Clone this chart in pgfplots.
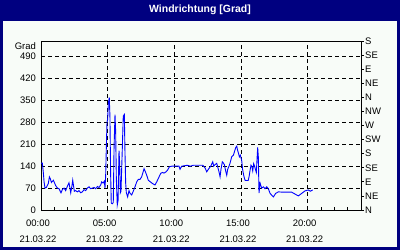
\documentclass[border=0pt]{standalone}
\usepackage{pgfplots}
\pgfplotsset{compat=1.18}
\usepackage{fontspec}
\setmainfont{Liberation Sans}
\definecolor{navy}{RGB}{0,0,128}
\definecolor{bgc}{RGB}{248,252,248}
\definecolor{lineblue}{RGB}{0,0,255}
\pgfplotstableread{
h v
0.00 150
0.10 150
0.18 117
0.23 90
0.30 70
0.40 72
0.55 85
0.63 106
0.70 100
0.78 88
0.93 95
1.00 88
1.10 78
1.23 70
1.35 68
1.50 55
1.60 65
1.73 70
1.85 62
2.00 78
2.10 87
2.17 70
2.23 55
2.33 80
2.38 95
2.43 80
2.50 60
2.60 62
2.73 58
2.85 62
2.98 55
3.10 58
3.23 65
3.35 62
3.48 70
3.60 74
3.73 68
3.85 70
3.98 72
4.10 68
4.23 75
4.35 72
4.48 80
4.55 90
4.65 86
4.75 92
4.80 70
4.85 110
4.90 200
4.95 280
5.00 290
5.05 340
5.12 360
5.17 300
5.22 120
5.27 22
5.35 20
5.42 24
5.48 200
5.55 305
5.60 250
5.65 100
5.72 16
5.78 30
5.85 190
5.90 150
5.95 55
6.00 60
6.10 200
6.17 300
6.25 305
6.30 180
6.35 86
6.40 55
6.50 42
6.60 62
6.68 53
6.80 48
6.90 58
7.05 74
7.18 90
7.30 98
7.43 98
7.55 106
7.73 132
7.83 122
7.93 111
8.05 95
8.20 90
8.35 85
8.55 80
8.68 90
8.80 101
8.98 117
9.10 120
9.23 118
9.38 122
9.50 128
9.63 138
9.80 140
10.00 140
10.35 140
10.43 130
10.55 140
10.98 143
11.20 140
11.43 143
11.80 143
12.13 143
12.30 135
12.43 122
12.55 130
12.73 140
12.88 154
12.95 140
13.05 145
13.18 149
13.25 138
13.35 122
13.43 106
13.50 130
13.60 154
13.68 150
13.75 145
13.85 125
13.93 111
14.00 130
14.10 140
14.18 150
14.30 170
14.43 175
14.50 185
14.60 199
14.68 204
14.75 190
14.82 180
14.88 170
14.95 175
15.05 159
15.12 130
15.20 111
15.30 95
15.45 94
15.55 95
15.62 110
15.68 127
15.75 143
15.82 138
15.88 125
15.95 148
16.02 140
16.08 130
16.15 120
16.20 160
16.25 200
16.30 170
16.35 54
16.43 86
16.55 70
16.68 74
16.80 68
16.93 74
17.05 68
17.18 53
17.43 42
17.60 53
17.80 58
18.10 57
18.43 57
18.80 57
19.05 51
19.30 45
19.55 53
19.80 61
20.05 64
20.20 60
20.38 64
}\winddata
\begin{document}
\begin{tikzpicture}
\fill[navy] (0bp,0bp) rectangle (400bp,250bp);
\fill[bgc] (3bp,3bp) rectangle (397bp,229bp);
\node[text=white, font=\bfseries\fontsize{10.5}{12}\selectfont] at (200bp,240bp) {Windrichtung [Grad]};
\begin{axis}[
  at={(41bp,40bp)}, anchor=south west,
  scale only axis, width=320bp, height=169bp,
  xmin=0, xmax=24, ymin=0, ymax=540,
  axis line style={black, line width=0.8bp},
  xtick={0,5,10,15,20},
  xticklabels={00:00\\21.03.22,05:00\\21.03.22,10:00\\21.03.22,15:00\\21.03.22,20:00\\21.03.22},
  minor xtick={1,2,3,4,6,7,8,9,11,12,13,14,16,17,18,19,21,22,23},
  ytick={0,70,140,210,280,350,420,490},
  /pgf/number format/assume math mode=true,
  tick align=inside,
  major tick length=3bp, minor tick length=3bp,
  tick style={black, line width=0.8bp},
  grid=major,
  major grid style={black, dash pattern=on 4bp off 3bp, line width=0.8bp},
  ticklabel style={font=\fontsize{9.5}{16}\selectfont},
  xticklabel style={align=center, inner sep=0pt, yshift=-10bp, xshift=-3bp},
  yticklabel style={inner sep=0pt, xshift=-5bp},
  ytick pos=left, xtick pos=bottom,
  clip=false,
]
\addplot[lineblue, line width=0.9bp] table[x=h, y=v] {\winddata};
\node[anchor=east, inner sep=0pt, xshift=-5bp, yshift=-5bp, font=\fontsize{9.5}{11}\selectfont] at (rel axis cs:0,1) {Grad};
\end{axis}
\begin{axis}[
  at={(41bp,40bp)}, anchor=south west,
  scale only axis, width=320bp, height=169bp,
  xmin=0, xmax=24, ymin=0, ymax=540,
  axis x line=none, axis y line*=right,
  axis line style={black, line width=0.8bp},
  ytick={0,45,...,540},
  yticklabels={N,NE,E,SE,S,SW,W,NW,N,NE,E,SE,S},
  tick align=outside, major tick length=3bp,
  tick style={black, line width=0.8bp},
  yticklabel style={font=\fontsize{9.5}{11}\selectfont, inner sep=1bp},
]
\addplot[draw=none] coordinates {(0,0)};
\end{axis}
\end{tikzpicture}
\end{document}
